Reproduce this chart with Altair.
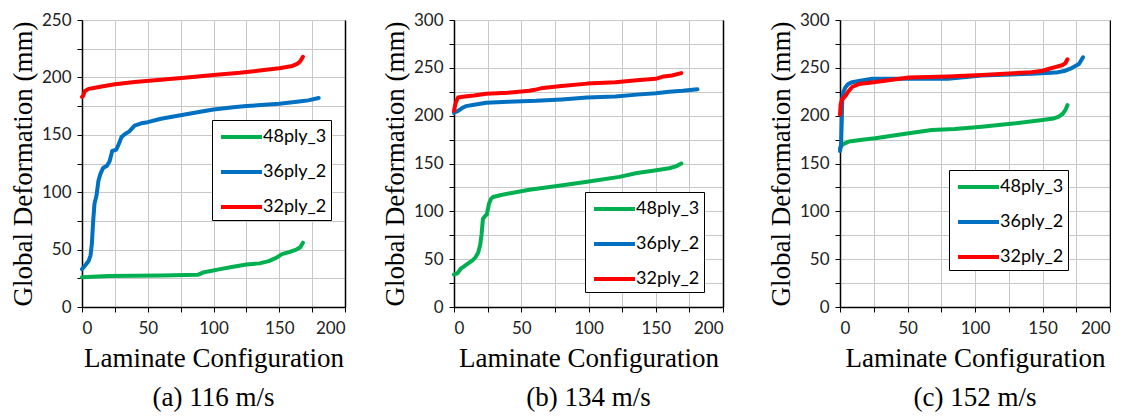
import altair as alt
import pandas as pd

SERIES = ["48ply_3", "36ply_2", "32ply_2"]
COLORS = ["#00B050", "#0070C0", "#FF0000"]
X_TICKS = [0, 25, 50, 75, 100, 125, 150, 175, 200]
Y_TICKS_A = [0, 25, 50, 75, 100, 125, 150, 175, 200, 225, 250]
Y_TICKS_BC = [0, 25, 50, 75, 100, 125, 150, 175, 200, 225, 250, 275, 300]
CAPTIONS = ["(a) 116 m/s", "(b) 134 m/s", "(c) 152 m/s"]
X_TITLE = "Laminate Configuration"
Y_TITLE = "Global Deformation (mm)"

# Panel (a) 116 m/s
A_X_48 = [0, 20, 60, 88, 92, 96, 105, 115, 125, 135, 142, 148, 152, 158, 163, 166, 168]
A_Y_48 = [26, 27, 27.5, 28, 30, 31, 33, 35, 37, 38, 40, 43, 46, 48, 50, 52, 56]
A_X_36 = [0, 3, 5, 6.5, 7.5, 8.5, 9.5, 11, 12.5, 14, 16, 19, 21, 23, 26, 28, 30, 33, 36,
          40, 45, 50, 60, 75, 90, 100, 115, 125, 150, 165, 172, 180]
A_Y_36 = [33, 37, 40, 45, 55, 75, 90, 97, 110, 116, 121, 123, 127, 136, 137, 142, 148, 151, 153,
          158, 160, 161, 164, 167, 170, 172, 174, 175, 177, 179, 180, 182]
A_X_32 = [0, 1, 2, 5, 10, 15, 25, 40, 60, 80, 100, 120, 135, 150, 160, 164, 166, 168]
A_Y_32 = [183, 184, 188, 190, 191, 192, 194, 196, 198, 200, 202, 204, 206, 208, 210, 212, 214, 218]

# Panel (b) 134 m/s
B_X_48 = [0, 2, 3, 5, 7, 10, 14, 16, 18, 19.5, 20.5, 21.5, 23, 24.5, 26, 27.5, 29, 35, 42, 56,
          74, 99, 123, 136, 148, 160, 165, 169]
B_Y_48 = [34, 35, 36, 40, 42, 45, 49, 52, 57, 65, 76, 92, 95, 97, 108, 113, 115, 117, 119, 122.5,
          126, 131, 136, 140, 142.5, 145, 147, 150]
B_X_36 = [0, 3, 6, 9, 15, 24, 40, 61, 80, 99, 120, 136, 150, 160, 170, 181]
B_Y_36 = [203, 205, 208, 210, 211.5, 213.5, 214.5, 215.5, 217, 219, 220, 222, 223.5, 225, 226, 227.5]
B_X_32 = [0, 1, 2, 3, 8, 15, 24, 40, 56, 60, 66, 80, 99, 120, 136, 150, 156, 162, 169]
B_Y_32 = [205, 212, 216, 219, 220, 221, 223, 224, 226, 227, 229, 231, 233.5, 235, 237, 238.5, 241, 242, 244.5]

# Panel (c) 152 m/s
C_X_48 = [0, 2, 6.7, 15, 26, 51, 68, 85, 105, 130, 150, 158, 162, 165, 167, 168.5]
C_Y_48 = [166, 170, 173, 174.5, 176.5, 181.7, 185, 186, 188.5, 192, 195.5, 197, 199, 202, 206, 211]
C_X_36 = [0, 0.8, 1.3, 1.7, 2.5, 4.2, 6, 9, 15, 24, 50, 80, 105, 142, 160, 167, 172, 177, 180]
C_Y_36 = [163, 170, 195, 218, 225, 230, 233, 235, 236.5, 238.5, 238.5, 238.5, 242, 243.7, 245, 247, 250, 254, 261]
C_X_32 = [0, 0.5, 1.5, 3, 4.2, 6, 9, 14, 25, 36, 51, 80, 105, 142, 150, 155, 160, 165, 167, 168.5]
C_Y_32 = [201, 212, 217, 219, 221, 225, 230, 233, 235, 237, 240, 241, 242.6, 245.4, 247, 249, 251, 253, 255, 259]

SERIF = "Liberation Serif"
SANS = "Lato"


def frame(pairs):
    rows = []
    for name, xs, ys in pairs:
        for i, (x, y) in enumerate(zip(xs, ys)):
            rows.append({"series": name, "x": x, "y": y, "i": i})
    return pd.DataFrame(rows)


def axis(values, title, label_pad, title_pad):
    return alt.Axis(values=values, title=title,
                    labelExpr="datum.value % 50 === 0 ? datum.label : ''",
                    labelPadding=label_pad, titlePadding=title_pad,
                    labelFont=SANS, labelFontSize=17, labelColor="#222222",
                    titleFont=SERIF, titleFontSize=27, titleFontWeight="normal", titleColor="black")


def panel(df, ymax, yticks, caption, width, legend_x, legend_y):
    xenc = alt.X("x:Q", scale=alt.Scale(domain=[0, 200], nice=False), axis=axis(X_TICKS, X_TITLE, 8, 9))
    lines = alt.Chart(df).mark_line(strokeWidth=4, strokeCap="round", strokeJoin="round").encode(
        x=xenc,
        y=alt.Y("y:Q", scale=alt.Scale(domain=[0, ymax], nice=False), axis=axis(yticks, Y_TITLE, 6, 4)),
        color=alt.Color("series:N", scale=alt.Scale(domain=SERIES, range=COLORS),
                        legend=alt.Legend(title=None, orient="none", legendX=legend_x, legendY=legend_y,
                                          strokeColor="black", fillColor="white", padding=4,
                                          symbolType="M-0.73,0H3", symbolSize=484, symbolStrokeWidth=4,
                                          labelFont=SANS, labelFontSize=18, labelColor="black",
                                          labelExpr="datum.label + '   '",
                                          labelOffset=21, rowPadding=13)),
        order="i:Q",
    )
    # right-hand plot-area border (plain axis line without ticks or labels)
    border = alt.Chart(df).mark_line(strokeOpacity=0).encode(
        x=xenc,
        y=alt.Y("y:Q", scale=alt.Scale(domain=[0, ymax], nice=False),
                axis=alt.Axis(orient="right", labels=False, ticks=False, grid=False, title=None,
                              domainColor="black", domainWidth=1.5)),
        detail="series:N",
        order="i:Q",
    )
    return alt.layer(lines, border).resolve_scale(y="independent").properties(
        width=width, height=287,
        title=alt.TitleParams(text=caption, orient="bottom", font=SERIF, fontSize=27,
                              fontWeight="normal", color="black", anchor="middle", offset=14),
    )


pa = panel(frame([("48ply_3", A_X_48, A_Y_48), ("36ply_2", A_X_36, A_Y_36), ("32ply_2", A_X_32, A_Y_32)]),
           250, Y_TICKS_A, CAPTIONS[0], 263, 130, 100)
pb = panel(frame([("48ply_3", B_X_48, B_Y_48), ("36ply_2", B_X_36, B_Y_36), ("32ply_2", B_X_32, B_Y_32)]),
           300, Y_TICKS_BC, CAPTIONS[1], 269, 131, 172)
pc = panel(frame([("48ply_3", C_X_48, C_Y_48), ("36ply_2", C_X_36, C_Y_36), ("32ply_2", C_X_32, C_Y_32)]),
           300, Y_TICKS_BC, CAPTIONS[2], 270, 109, 150)

chart = alt.hconcat(
    alt.hconcat(pa, pb, spacing=34).resolve_scale(color="independent"),
    pc, spacing=42,
).resolve_scale(color="independent").configure(
    padding={"top": 2, "left": 0, "right": 0, "bottom": 0}, background="white"
).configure_view(stroke="#c0c0c0").configure_axis(
    domainColor="black", domainWidth=1.5, tickColor="black", tickSize=5, tickWidth=1,
    gridColor="#c8c8c8", gridWidth=1,
)

chart.save("out.html", embed_options={"renderer": "svg", "actions": False})
